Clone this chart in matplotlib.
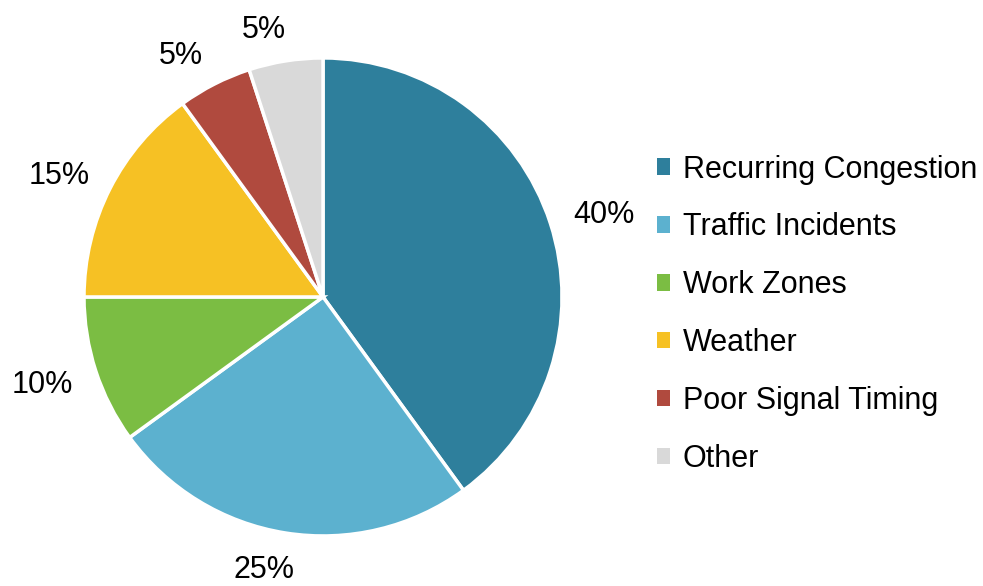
import numpy as np
import matplotlib.pyplot as plt
from matplotlib.patches import Patch
from matplotlib import font_manager

categories = ['Recurring Congestion', 'Traffic Incidents', 'Work Zones',
              'Weather', 'Poor Signal Timing', 'Other']
shares = [40, 25, 10, 15, 5, 5]
colors = ['#2E7F9C', '#5CB1CF', '#7BBD43', '#F6C124', '#B04A3E', '#D9D9D9']

# prefer a condensed face if one is around, else shrink regular Liberation Sans
try:
    font_manager.findfont('Liberation Sans Narrow', fallback_to_default=False)
    plt.rcParams['font.family'] = ['Liberation Sans Narrow', 'DejaVu Sans']
    fsize = 25
except ValueError:
    plt.rcParams['font.family'] = ['Liberation Sans', 'DejaVu Sans']
    fsize = 22

fig = plt.figure(figsize=(9.83, 5.86), dpi=100)
# pie axes: square box centred on the pie
ax = fig.add_axes([0.3286 - 0.2432, 0.4932 - 0.4078, 0.4864, 0.8157])
wedges, texts = ax.pie(
    shares, colors=colors, startangle=90, counterclock=False,
    labels=[f'{v}%' for v in shares],
    wedgeprops=dict(edgecolor='white', linewidth=2.5),
    textprops=dict(fontsize=fsize, color='black'))

# push the percent labels out a bit, more sideways than up/down
for w, t in zip(wedges, texts):
    mid = np.deg2rad((w.theta1 + w.theta2) / 2)
    cx, sy = np.cos(mid), np.sin(mid)
    t.set_position((1.17 * cx + np.sign(cx) * 0.063, 1.145 * sy - 0.0125))
    t.set_horizontalalignment('center')
    t.set_verticalalignment('center')
ax.set_xlim(-1, 1)
ax.set_ylim(-1, 1)
ax.set_aspect('equal')

handles = [Patch(facecolor=c, edgecolor='none') for c in colors]
fig.legend(handles, categories, loc='center left', bbox_to_anchor=(0.668, 0.464),
           frameon=False, fontsize=fsize, handlelength=0.45, handleheight=0.45,
           handletextpad=0.4, labelspacing=0.91, borderpad=0, borderaxespad=0)

fig.savefig('out.png', dpi=100)
